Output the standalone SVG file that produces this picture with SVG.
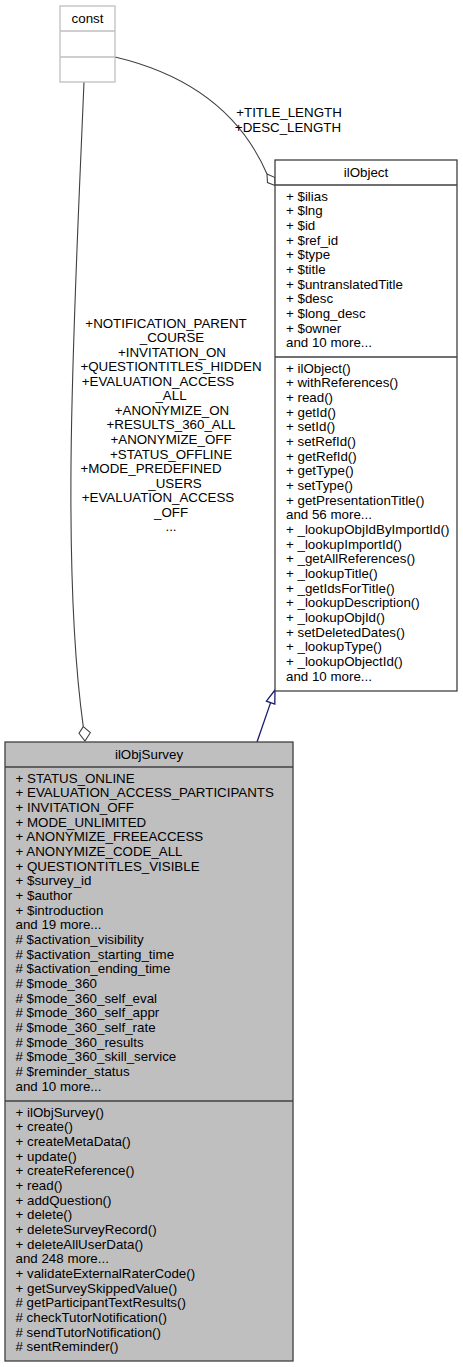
<svg xmlns="http://www.w3.org/2000/svg" width="463" height="1367" viewBox="0 0 463 1367">
<style>
text{font-family:"Liberation Sans",Arial,sans-serif;font-size:13.33px;fill:#000}
.c{text-anchor:middle}
.box{stroke:#404040;stroke-width:1.3}
.lt{fill:#fff;stroke:#bfbfbf;stroke-width:1.3}
.edge{fill:none;stroke:#404040;stroke-width:1.1}
.inh{fill:none;stroke:#191970;stroke-width:1.3}
</style>
<rect width="463" height="1367" fill="#fff"/>
<g id="connectors">
<path class="edge" d="M115,57 C170,70 235,100 267,174"/>
<polygon class="edge" points="267,174 275,177.5 275,185.5 267.5,182.5" fill="#fff"/>
<path class="edge" d="M84,82 C75,300 60,560 83.3,726.7"/>
<polygon class="edge" points="83.3,726.7 90.3,732.7 85,741 79,733.3" fill="#fff"/>
<path class="inh" d="M257,742 L270.6,702.6"/>
<polygon class="inh" points="275,690 266.4,701.1 274.8,704" fill="#fff"/>
<text class="c" x="289" y="117">+TITLE_LENGTH</text>
<text class="c" x="288" y="132">+DESC_LENGTH</text>
<text class="c" x="166" y="327.5">+NOTIFICATION_PARENT</text>
<text class="c" x="172" y="342">_COURSE</text>
<text class="c" x="172" y="356.6">+INVITATION_ON</text>
<text class="c" x="171" y="371.2">+QUESTIONTITLES_HIDDEN</text>
<text class="c" x="158" y="385.7">+EVALUATION_ACCESS</text>
<text class="c" x="171" y="400.3">_ALL</text>
<text class="c" x="172" y="414.8">+ANONYMIZE_ON</text>
<text class="c" x="171" y="429.4">+RESULTS_360_ALL</text>
<text class="c" x="171" y="443.9">+ANONYMIZE_OFF</text>
<text class="c" x="171" y="458.5">+STATUS_OFFLINE</text>
<text class="c" x="151" y="473">+MODE_PREDEFINED</text>
<text class="c" x="175" y="487.6">_USERS</text>
<text class="c" x="158" y="502.1">+EVALUATION_ACCESS</text>
<text class="c" x="171" y="516.7">_OFF</text>
<text class="c" x="171" y="531.2">...</text>
</g>
<g id="const">
<rect class="lt" x="60" y="6" width="55" height="76"/>
<line class="lt" x1="60" y1="31" x2="115" y2="31"/>
<line class="lt" x1="60" y1="57" x2="115" y2="57"/>
<text class="c" x="87.5" y="23">const</text>
</g>
<g id="ilObject">
<rect class="box" x="275" y="160" width="182" height="531" fill="#fff"/>
<line class="box" x1="275" y1="185" x2="457" y2="185"/>
<line class="box" x1="275" y1="357" x2="457" y2="357"/>
<text class="c" x="366" y="177">ilObject</text>
<text x="286" y="200.5"><tspan x="286">+ $ilias</tspan><tspan x="286" dy="14.67">+ $lng</tspan><tspan x="286" dy="14.67">+ $id</tspan><tspan x="286" dy="14.67">+ $ref_id</tspan><tspan x="286" dy="14.67">+ $type</tspan><tspan x="286" dy="14.67">+ $title</tspan><tspan x="286" dy="14.67">+ $untranslatedTitle</tspan><tspan x="286" dy="14.67">+ $desc</tspan><tspan x="286" dy="14.67">+ $long_desc</tspan><tspan x="286" dy="14.67">+ $owner</tspan><tspan x="286" dy="14.67">and 10 more...</tspan></text>
<text x="286" y="372.5"><tspan x="286">+ ilObject()</tspan><tspan x="286" dy="14.67">+ withReferences()</tspan><tspan x="286" dy="14.67">+ read()</tspan><tspan x="286" dy="14.67">+ getId()</tspan><tspan x="286" dy="14.67">+ setId()</tspan><tspan x="286" dy="14.67">+ setRefId()</tspan><tspan x="286" dy="14.67">+ getRefId()</tspan><tspan x="286" dy="14.67">+ getType()</tspan><tspan x="286" dy="14.67">+ setType()</tspan><tspan x="286" dy="14.67">+ getPresentationTitle()</tspan><tspan x="286" dy="14.67">and 56 more...</tspan><tspan x="286" dy="14.67">+ _lookupObjIdByImportId()</tspan><tspan x="286" dy="14.67">+ _lookupImportId()</tspan><tspan x="286" dy="14.67">+ _getAllReferences()</tspan><tspan x="286" dy="14.67">+ _lookupTitle()</tspan><tspan x="286" dy="14.67">+ _getIdsForTitle()</tspan><tspan x="286" dy="14.67">+ _lookupDescription()</tspan><tspan x="286" dy="14.67">+ _lookupObjId()</tspan><tspan x="286" dy="14.67">+ setDeletedDates()</tspan><tspan x="286" dy="14.67">+ _lookupType()</tspan><tspan x="286" dy="14.67">+ _lookupObjectId()</tspan><tspan x="286" dy="14.67">and 10 more...</tspan></text>
</g>
<g id="ilObjSurvey">
<rect class="box" x="5" y="742" width="288" height="619" fill="#bfbfbf"/>
<line class="box" x1="5" y1="767" x2="293" y2="767"/>
<line class="box" x1="5" y1="1101" x2="293" y2="1101"/>
<text class="c" x="149" y="759">ilObjSurvey</text>
<text x="15.5" y="782.5"><tspan x="15.5">+ STATUS_ONLINE</tspan><tspan x="15.5" dy="14.67">+ EVALUATION_ACCESS_PARTICIPANTS</tspan><tspan x="15.5" dy="14.67">+ INVITATION_OFF</tspan><tspan x="15.5" dy="14.67">+ MODE_UNLIMITED</tspan><tspan x="15.5" dy="14.67">+ ANONYMIZE_FREEACCESS</tspan><tspan x="15.5" dy="14.67">+ ANONYMIZE_CODE_ALL</tspan><tspan x="15.5" dy="14.67">+ QUESTIONTITLES_VISIBLE</tspan><tspan x="15.5" dy="14.67">+ $survey_id</tspan><tspan x="15.5" dy="14.67">+ $author</tspan><tspan x="15.5" dy="14.67">+ $introduction</tspan><tspan x="15.5" dy="14.67">and 19 more...</tspan><tspan x="15.5" dy="14.67"># $activation_visibility</tspan><tspan x="15.5" dy="14.67"># $activation_starting_time</tspan><tspan x="15.5" dy="14.67"># $activation_ending_time</tspan><tspan x="15.5" dy="14.67"># $mode_360</tspan><tspan x="15.5" dy="14.67"># $mode_360_self_eval</tspan><tspan x="15.5" dy="14.67"># $mode_360_self_appr</tspan><tspan x="15.5" dy="14.67"># $mode_360_self_rate</tspan><tspan x="15.5" dy="14.67"># $mode_360_results</tspan><tspan x="15.5" dy="14.67"># $mode_360_skill_service</tspan><tspan x="15.5" dy="14.67"># $reminder_status</tspan><tspan x="15.5" dy="14.67">and 10 more...</tspan></text>
<text x="15.5" y="1116.5"><tspan x="15.5">+ ilObjSurvey()</tspan><tspan x="15.5" dy="14.67">+ create()</tspan><tspan x="15.5" dy="14.67">+ createMetaData()</tspan><tspan x="15.5" dy="14.67">+ update()</tspan><tspan x="15.5" dy="14.67">+ createReference()</tspan><tspan x="15.5" dy="14.67">+ read()</tspan><tspan x="15.5" dy="14.67">+ addQuestion()</tspan><tspan x="15.5" dy="14.67">+ delete()</tspan><tspan x="15.5" dy="14.67">+ deleteSurveyRecord()</tspan><tspan x="15.5" dy="14.67">+ deleteAllUserData()</tspan><tspan x="15.5" dy="14.67">and 248 more...</tspan><tspan x="15.5" dy="14.67">+ validateExternalRaterCode()</tspan><tspan x="15.5" dy="14.67">+ getSurveySkippedValue()</tspan><tspan x="15.5" dy="14.67"># getParticipantTextResults()</tspan><tspan x="15.5" dy="14.67"># checkTutorNotification()</tspan><tspan x="15.5" dy="14.67"># sendTutorNotification()</tspan><tspan x="15.5" dy="14.67"># sentReminder()</tspan></text>
</g>
</svg>
